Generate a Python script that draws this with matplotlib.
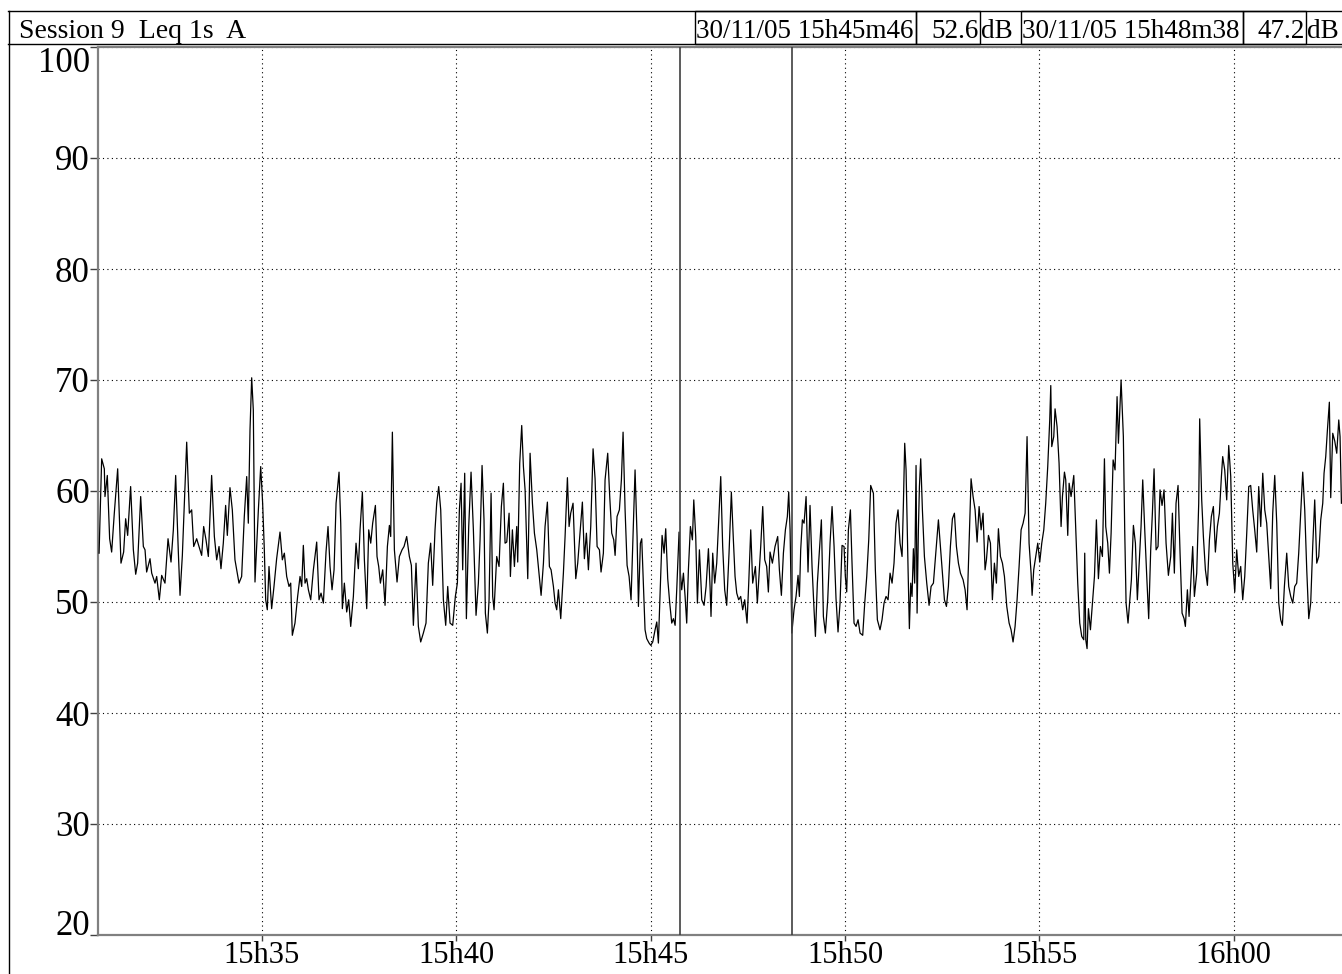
import matplotlib
matplotlib.use("Agg")
import matplotlib.pyplot as plt
from matplotlib.lines import Line2D
from matplotlib.patches import Rectangle

# ---------------- data ----------------
title_text = "Session 9  Leq 1s  A"
cursor1_label = "30/11/05 15h45m46"
cursor1_value = "52.6"
cursor2_label = "30/11/05 15h48m38"
cursor2_value = "47.2"
unit = "dB"

# seconds after 15h30m00
cursor_times = [946, 1118]

x_tick_seconds = [300, 600, 900, 1200, 1500, 1800]
x_tick_labels = ["15h35", "15h40", "15h45", "15h50", "15h55", "16h00"]
y_ticks = [20, 30, 40, 50, 60, 70, 80, 90, 100]
x_range = [47.8, 1967.0]
y_range = [20, 100]

time_s = [
    49.0, 53.0, 57.1, 58.1, 61.7, 65.3, 68.4, 72.5, 77.7, 82.8, 86.9, 90.0, 93.1, 97.7,
    101.9, 105.5, 108.5, 113.2, 117.3, 119.9, 122.4, 127.6, 130.2, 135.3, 137.9, 142.0,
    145.6, 150.7, 155.4, 160.0, 163.6, 167.2, 171.3, 173.9, 177.5, 180.6, 184.2, 188.3,
    191.9, 195.0, 199.6, 204.7, 207.3, 210.4, 214.0, 217.6, 222.7, 226.9, 230.5, 234.1,
    237.1, 240.7, 244.3, 246.9, 251.0, 254.6, 258.7, 264.9, 269.0, 273.1, 276.8, 279.3,
    281.9, 284.5, 287.0, 289.6, 294.8, 298.4, 301.4, 304.0, 306.1, 308.6, 311.2, 315.3,
    318.9, 323.0, 328.2, 331.8, 334.9, 338.5, 342.1, 344.7, 347.2, 351.3, 355.4,
    359.1, 361.7, 364.2, 366.8, 369.4, 372.0, 375.6, 379.7, 384.8, 388.4, 391.5, 395.1,
    399.2, 402.3, 405.4, 408.5, 411.6, 414.7, 419.3, 421.9, 424.4, 427.5, 431.1, 434.2,
    437.3, 441.4, 445.5, 449.1, 451.7, 455.3, 458.4, 462.0, 465.1, 468.2, 471.2, 475.4,
    477.9, 480.5, 483.1, 486.7, 490.3, 493.9, 497.0, 499.0, 501.6, 504.7, 508.8, 512.4,
    516.5, 519.6, 523.7, 527.8, 530.9, 534.0, 538.1, 541.7, 545.3, 549.4, 553.5, 557.1,
    560.7, 563.8, 567.4, 570.0, 573.1, 576.2, 580.3, 583.9, 587.0, 590.6, 594.7, 598.8,
    601.9, 605.0, 607.6, 610.1, 613.2, 615.8, 619.4, 623.0, 626.6, 630.7, 634.3, 636.9,
    640.0, 643.0, 645.1, 648.2, 650.8, 653.9, 656.4, 658.5, 662.6, 666.2, 669.8, 672.9,
    675.5, 678.1, 681.7, 683.7, 686.8, 689.9, 693.5, 695.0, 698.1, 701.2, 703.8, 706.4,
    710.5, 714.1, 717.7, 720.8, 724.4, 726.9, 731.1, 734.7, 737.2, 740.8, 743.9, 746.5,
    750.1, 752.7, 755.2, 757.8, 761.4, 765.5, 768.1, 771.7, 774.3, 776.8, 780.4, 784.6,
    787.6, 791.2, 794.8, 797.9, 801.0, 804.1, 807.7, 811.3, 814.4, 817.5, 821.1, 823.6,
    827.2, 829.8, 833.9, 837.0, 840.1, 843.2, 845.3, 848.3, 851.9, 855.0, 857.6, 860.7,
    863.8, 866.9, 869.9, 873.0, 876.1, 879.2, 881.3, 884.3, 886.4, 889.0, 891.5, 894.1,
    897.7, 900.3, 903.4, 907.0, 909.6, 912.1, 915.2, 917.8, 920.9, 923.4, 926.5, 929.6,
    932.7, 935.3, 937.9, 940.4, 944.0, 946.0, 948.1, 950.7, 953.3, 955.8, 958.4, 961.5,
    964.6, 966.7, 969.7, 972.3, 975.4, 979.0, 982.6, 985.7, 989.3,
    991.8, 993.3, 995.9, 999.0, 1002.1, 1005.2, 1008.3, 1011.3, 1014.4, 1017.5, 1021.1,
    1024.7, 1027.8, 1030.4, 1033.0, 1036.0, 1039.1, 1042.2, 1045.3, 1048.9, 1051.5,
    1054.6, 1057.6, 1061.8, 1064.8, 1067.9, 1070.0, 1073.1, 1076.2, 1079.2, 1081.8,
    1084.4, 1088.0, 1092.1, 1096.2, 1098.8, 1101.9, 1105.0, 1108.1, 1111.1, 1113.2,
    1115.3, 1117.3, 1118.0, 1121.4, 1124.5, 1127.6, 1129.7, 1131.7, 1134.3, 1136.9,
    1140.0, 1143.0, 1146.1, 1149.2, 1152.3, 1154.4, 1157.4, 1160.5, 1163.6, 1166.7,
    1169.8, 1173.4, 1177.0, 1180.1, 1183.2, 1186.2, 1189.3, 1192.4, 1195.5, 1198.6,
    1200.6, 1202.7, 1205.3, 1208.4, 1210.9, 1214.0, 1217.1, 1220.2, 1223.3, 1227.4,
    1230.5, 1233.6, 1236.7, 1239.7, 1243.9, 1246.9, 1250.0, 1254.1, 1257.2, 1260.3,
    1263.4, 1266.5, 1269.6, 1272.7, 1275.7, 1278.8, 1281.9, 1285.0, 1288.1, 1290.2,
    1292.2, 1294.3, 1297.4, 1299.4, 1301.5, 1303.5, 1305.6, 1307.6,
    1309.7, 1311.3, 1313.3, 1314.9, 1316.9, 1319.5, 1322.6, 1326.2, 1329.8, 1332.9,
    1336.5, 1340.1, 1344.2, 1347.3, 1350.4, 1353.5, 1356.6, 1359.6, 1362.7, 1365.8,
    1368.9, 1372.0, 1375.1, 1378.2, 1382.3, 1385.4, 1388.4, 1391.5, 1394.6, 1397.7,
    1400.8, 1403.9, 1407.0, 1410.1, 1413.1, 1416.2, 1418.3, 1421.4, 1424.5, 1427.5,
    1430.6, 1433.7, 1436.8, 1439.9, 1443.0, 1446.1, 1449.7, 1453.3, 1456.3, 1459.4,
    1462.5, 1465.6, 1468.7, 1471.8, 1474.9, 1478.0, 1481.0, 1484.1, 1487.2, 1488.8,
    1491.3, 1494.4, 1497.5, 1500.6, 1503.7, 1506.8, 1509.8, 1512.9, 1516.0, 1517.6,
    1519.1, 1522.2, 1524.2, 1527.3, 1530.4, 1533.5, 1535.6, 1538.7, 1540.7, 1543.8,
    1545.9, 1548.9, 1553.1, 1556.1, 1559.2, 1562.3, 1565.4, 1568.5, 1570.0, 1571.6,
    1573.6, 1575.7, 1578.8, 1581.9, 1585.0, 1588.0, 1591.1, 1594.2, 1597.3, 1600.4,
    1602.4, 1605.5, 1608.1, 1610.7, 1613.8, 1616.8, 1619.9, 1622.0,
    1626.1, 1629.6, 1631.7, 1633.8, 1636.8, 1639.9, 1642.0, 1645.1, 1648.2, 1651.2,
    1654.3, 1656.9, 1659.5, 1662.6, 1665.7, 1668.7, 1671.8, 1674.4, 1677.0, 1680.1,
    1683.1, 1686.2, 1689.3, 1692.4, 1695.5, 1699.1, 1702.7, 1705.3, 1708.3, 1710.9,
    1714.0, 1717.1, 1720.2, 1723.3, 1725.3, 1728.4, 1731.0, 1734.1, 1736.6, 1739.2,
    1742.8, 1745.9, 1747.4, 1750.5, 1753.1, 1756.2, 1759.3, 1762.4, 1765.4, 1768.5,
    1771.6, 1774.7, 1777.8, 1780.9, 1782.9, 1786.0, 1789.1, 1792.2, 1795.3, 1798.4,
    1801.5, 1804.5, 1807.6, 1810.7, 1813.8, 1816.9, 1820.0, 1823.1, 1826.1, 1829.2,
    1832.3, 1835.4, 1838.5, 1841.6, 1844.7, 1847.8, 1850.8, 1853.9, 1857.0, 1860.1,
    1863.2, 1866.3, 1869.4, 1872.4, 1875.0, 1878.1, 1881.7, 1884.8, 1887.9, 1891.0,
    1894.0, 1897.1, 1900.2, 1903.3, 1906.4, 1909.5, 1912.6, 1915.7, 1918.7, 1921.8,
    1924.9, 1928.0, 1931.1, 1934.2, 1937.3, 1939.3, 1941.9, 1944.5, 1947.5, 1949.6,
    1952.7, 1955.8, 1958.9, 1962.0, 1964.0, 1966.1,
]

level_db = [
    54.4, 62.9, 62.0, 59.5, 61.4, 55.7, 54.5, 58.0, 62.0, 53.5, 54.5, 57.5, 56.0, 60.4,
    54.7, 52.5, 53.5, 59.5, 55.0, 54.7, 52.7, 53.9, 52.6, 51.7, 52.3, 50.2,
    52.4, 51.7, 55.7, 53.6, 56.5, 61.4, 54.5, 50.6, 54.2, 58.9, 64.4, 58.0,
    58.3, 55.0, 55.7, 54.7, 54.2, 56.8, 55.6, 54.1, 61.4, 55.9, 53.8, 55.0,
    53.0, 55.3, 58.7, 56.0, 60.3, 58.3, 53.8, 51.7, 52.3, 57.7, 61.3, 57.1,
    65.5, 70.2, 67.3, 51.8, 58.3, 62.2, 58.9, 54.7, 50.2, 49.3, 53.2, 49.4,
    51.4, 53.9, 56.3, 53.8, 54.4, 52.3, 51.4, 51.7, 47.0, 48.1, 50.5,
    52.3, 51.4, 55.1, 51.7, 52.1, 51.1, 50.2, 52.9, 55.4, 50.2, 50.8, 49.9,
    54.5, 56.8, 53.2, 51.1, 52.9, 58.9, 61.7, 57.1, 49.4, 51.7, 49.1, 50.2,
    47.8, 50.5, 55.3, 53.0, 56.5, 59.9, 53.8, 49.4, 56.5, 55.3, 57.1, 58.7,
    54.1, 53.2, 51.7, 52.9, 49.7, 55.0, 56.9, 55.9, 65.3, 54.7, 51.8, 54.1,
    54.7, 55.0, 55.9, 54.1, 53.3, 47.9, 53.5, 47.8, 46.4, 47.2, 48.1, 53.5,
    55.3, 51.5, 56.5, 58.9, 60.4, 58.3, 50.2, 47.9, 51.4, 48.1, 47.9, 50.5,
    51.7, 58.3, 60.7, 52.9, 61.6, 48.5, 56.8, 61.7, 56.5, 48.8, 51.7, 55.6,
    62.3, 57.4, 49.0, 47.2, 50.2, 59.8, 50.5, 49.3, 54.1, 53.2, 58.6, 60.7,
    55.3, 55.4, 58.0, 52.3, 56.5, 53.2, 56.8, 53.6, 62.5, 65.9, 62.2, 60.1,
    52.1, 63.4, 58.9, 56.2, 54.7, 53.2, 50.6, 53.5, 56.8, 59.0, 53.2, 52.9,
    51.4, 49.9, 49.3, 51.1, 48.5, 52.6, 55.9, 61.2, 56.8, 58.0, 58.9, 52.1,
    53.5, 56.2, 59.0, 53.9, 56.2, 52.9, 56.8, 63.8, 61.1, 55.0, 54.7, 52.7,
    54.4, 61.0, 63.4, 59.5, 56.2, 55.6, 54.2, 57.7, 58.3, 61.0, 65.3, 58.3,
    53.3, 52.3, 50.2, 55.9, 61.9, 55.9, 49.6, 55.3, 55.7, 51.4, 47.5, 46.7,
    46.3, 46.1, 46.4, 47.5, 48.2, 46.3, 51.7, 56.0, 54.4, 56.6, 52.1, 49.9,
    48.1, 48.5, 47.9, 51.1, 56.3, 52.6, 51.1, 52.6, 50.5, 48.1, 52.9, 56.8,
    55.6, 59.2, 55.9, 49.9, 54.7, 50.2, 49.7, 51.4, 54.8,
    51.4, 48.7, 54.4, 51.7, 53.5, 57.4, 61.3, 55.0, 51.1, 49.7, 54.4,
    59.9, 55.6, 52.3, 50.8, 50.2, 50.5, 49.3, 50.2, 48.1, 51.7,
    56.5, 51.7, 53.2, 49.9, 52.9, 55.0, 58.6, 53.8, 53.2, 50.9,
    54.5, 53.5, 55.0, 55.9, 52.9, 50.6, 54.4, 56.5, 57.7, 59.9,
    56.5, 49.3, 47.2, 49.3, 50.5, 52.4, 50.5, 54.7, 57.4, 57.1,
    59.5, 52.7, 58.7, 53.2, 49.3, 46.9, 51.7, 54.5, 57.4, 48.7,
    47.2, 50.2, 55.3, 58.6, 55.0, 50.3, 47.3, 49.9, 55.1, 55.0,
    52.3, 50.9, 56.5, 58.3, 53.5, 48.1, 47.8, 48.4, 47.2, 47.0,
    49.9, 52.3, 55.6, 60.5, 59.8, 52.9, 48.4, 47.5, 48.4, 49.9,
    50.5, 50.2, 52.6, 51.7, 53.5, 57.1, 58.3, 55.3, 54.1, 58.9,
    64.3, 61.9, 52.9, 47.6, 51.7, 50.5, 54.8, 51.7,
    62.3, 49.0, 56.5, 60.4, 62.9, 58.3, 54.1, 51.7, 49.7, 51.4,
    51.7, 54.4, 57.4, 55.0, 52.6, 50.2, 49.6, 51.4, 55.0, 57.5,
    58.0, 55.0, 53.5, 52.6, 52.0, 51.1, 49.3, 55.3, 61.1, 59.5,
    58.3, 55.4, 58.6, 56.5, 58.0, 52.9, 53.8, 56.0, 55.3, 50.2,
    53.5, 51.7, 56.6, 54.1, 53.5, 52.3, 49.6, 48.1, 47.5, 46.4,
    47.8, 50.2, 53.2, 56.5, 57.1, 58.0, 64.9, 55.3, 52.6, 50.6,
    52.9, 54.1, 55.3, 53.6, 55.3, 56.5, 58.9, 62.2, 66.4, 69.5,
    64.0, 64.9, 67.4, 65.8, 62.5, 56.8, 59.5, 61.7, 61.0, 56.0,
    60.7, 59.5, 61.4, 56.5, 51.7, 48.1, 46.9, 46.6, 54.4, 46.6,
    45.8, 49.4, 47.5, 49.9, 52.3, 57.4, 52.1, 55.0, 54.1, 62.9,
    56.8, 55.3, 52.6, 56.2, 62.8, 61.9, 68.5, 64.3,
    70.0, 64.9, 56.5, 49.9, 48.1, 50.5, 52.0, 56.9, 55.3, 50.2,
    53.8, 56.8, 61.0, 56.5, 52.3, 48.5, 54.7, 58.0, 62.0, 54.7,
    55.0, 60.1, 58.7, 60.1, 55.3, 52.4, 54.1, 58.0, 52.6, 58.9,
    60.5, 54.4, 49.0, 48.5, 47.8, 51.1, 48.7, 52.3, 55.0, 50.5,
    52.6, 58.9, 66.5, 59.2, 55.9, 52.9, 51.5, 55.6, 57.7, 58.6,
    54.5, 56.8, 58.0, 61.3, 63.1, 61.9, 59.2, 64.1, 61.3, 53.5,
    50.9, 54.7, 52.3, 53.2, 50.2, 52.3, 56.2, 60.4, 60.5, 58.3,
    56.5, 54.5, 60.4, 56.8, 61.6, 58.3, 57.1, 54.1, 51.2, 58.0,
    61.4, 57.1, 49.9, 48.4, 47.9, 51.4, 54.4, 51.4, 50.5, 49.9,
    51.4, 51.7, 54.4, 58.0, 61.7, 58.3, 52.9, 48.5, 49.9, 55.0,
    59.2, 53.5, 54.1, 57.4, 58.9, 61.6, 63.1, 65.5, 68.0, 59.4,
    65.2, 64.5, 63.4, 66.4, 64.9, 58.9,
]

# ---------------- figure ----------------
W, H = 1342, 974
fig = plt.figure(figsize=(W / 100, H / 100), dpi=100)
fig.patch.set_facecolor("white")
SERIF = ["Liberation Serif", "DejaVu Serif"]

def fx(px):
    return px / W

def fy(py):
    return 1 - py / H

ax = fig.add_axes([fx(98.3), fy(935), 1 - fx(98.3), fy(47) - fy(935)])

ax.plot(time_s, level_db, color="black", lw=0.9, zorder=3)
for ct in cursor_times:
    ax.axvline(ct, color="#404040", lw=1.2, zorder=4)

ax.set_xlim(*x_range)
ax.set_ylim(*y_range)
ax.set_xticks(x_tick_seconds)
ax.set_xticklabels(x_tick_labels, family=SERIF, fontsize=22)
ax.set_yticks(y_ticks)
ax.set_yticklabels([str(v) for v in y_ticks], family=SERIF, fontsize=25)
ax.grid(True, color="black", linestyle=(0, (1, 3)), lw=0.8)
ax.tick_params(axis="x", direction="out", length=4, width=1, color="#404040", pad=0)
ax.tick_params(axis="y", direction="out", length=6, width=1, color="#404040", pad=0)

labels = ax.get_yticklabels()
labels[0].set_va("baseline")
labels[-1].set_va("top")

for side in ("left", "bottom", "top"):
    ax.spines[side].set_color("#808080")
    ax.spines[side].set_linewidth(1.6)
ax.spines["right"].set_visible(False)

# ---------------- header / frame ----------------
def hline(y, x0, x1, color="black", lw=1.0):
    fig.add_artist(Line2D([fx(x0), fx(x1)], [fy(y), fy(y)], transform=fig.transFigure,
                          color=color, lw=lw))

def vline(x, y0, y1, color="black", lw=1.0):
    fig.add_artist(Line2D([fx(x), fx(x)], [fy(y0), fy(y1)], transform=fig.transFigure,
                          color=color, lw=lw))

hline(11, 8, W)
hline(44, 8, W)
vline(8.5, 11, H)

fig.text(fx(19), fy(38), title_text, family=SERIF, fontsize=20, va="baseline", ha="left")

boxes = [(694.8, 916.3), (916.3, 979.6), (1021.0, 1243.3), (1243.3, 1305.7)]
for x0, x1 in boxes:
    fig.add_artist(Rectangle((fx(x0), fy(44)), fx(x1) - fx(x0), fy(11) - fy(44),
                             transform=fig.transFigure, fill=False, edgecolor="black", lw=1.0))

fig.text(fx(696), fy(38), cursor1_label, family=SERIF, fontsize=19.5, va="baseline", ha="left")
fig.text(fx(979), fy(38), cursor1_value, family=SERIF, fontsize=19.5, va="baseline", ha="right")
fig.text(fx(980.5), fy(38), unit, family=SERIF, fontsize=19.5, va="baseline", ha="left")
fig.text(fx(1022.5), fy(38), cursor2_label, family=SERIF, fontsize=19.5, va="baseline", ha="left")
fig.text(fx(1305), fy(38), cursor2_value, family=SERIF, fontsize=19.5, va="baseline", ha="right")
fig.text(fx(1306.5), fy(38), unit, family=SERIF, fontsize=19.5, va="baseline", ha="left")

fig.savefig("out.png", dpi=100)
